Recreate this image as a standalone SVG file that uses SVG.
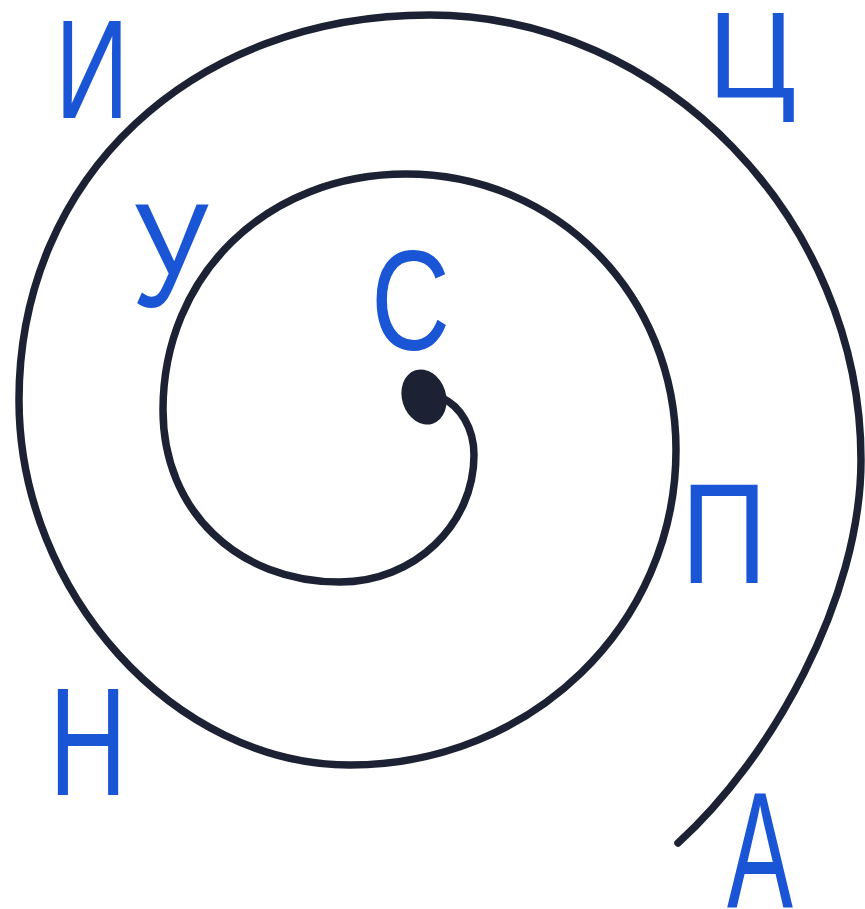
<svg xmlns="http://www.w3.org/2000/svg" width="865" height="909" viewBox="0 0 865 909">
<style>
.sp{fill:none;stroke:#1c2234;stroke-width:7.5;stroke-linecap:round;stroke-linejoin:round}
.lt{font-family:"Liberation Sans",Arial,sans-serif;fill:#1a55d6}
</style>
<rect width="865" height="909" fill="#ffffff"/>
<g id="spiral">
<ellipse cx="424" cy="397" rx="22" ry="28" transform="rotate(-18 424 397)" fill="#1c2234"/>
<path class="sp" d="M442,398 C460,406 474,428 474,455 C474,525 414,582 340,582 C237,582 163,510 163,410 C163,275 267,174 406,174 C557,174 676,295 676,450 C676,625 531,765 350,765 C175,765 19,593 19,400 C19,177 192,15 430,15 C663,15 861,220 861,460 C861,600 770,760 678,843"/>
</g>
<g id="letter-I"><text class="lt" x="55" y="118" font-size="141" textLength="74" lengthAdjust="spacingAndGlyphs">И</text></g>
<g id="letter-Ts"><text class="lt" x="708" y="98" font-size="123" textLength="88" lengthAdjust="spacingAndGlyphs">Ц</text></g>
<g id="letter-U"><text class="lt" x="132" y="307" font-size="148" textLength="76" lengthAdjust="spacingAndGlyphs">У</text></g>
<g id="letter-S"><text class="lt" x="371" y="350" font-size="142" textLength="79" lengthAdjust="spacingAndGlyphs">С</text></g>
<g id="letter-P"><text class="lt" x="681" y="583" font-size="143" textLength="86" lengthAdjust="spacingAndGlyphs">П</text></g>
<g id="letter-N"><text class="lt" x="49" y="795" font-size="154" textLength="78" lengthAdjust="spacingAndGlyphs">Н</text></g>
<g id="letter-A"><text class="lt" x="727" y="907" font-size="166" textLength="66" lengthAdjust="spacingAndGlyphs">А</text></g>
</svg>
